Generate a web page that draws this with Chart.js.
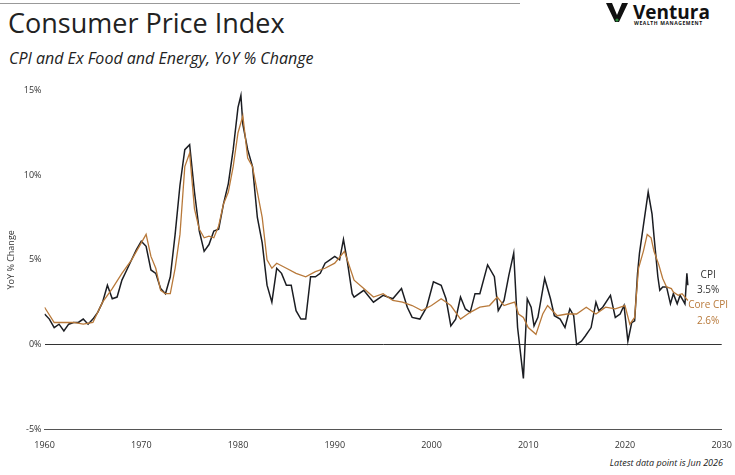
<!DOCTYPE html>
<html>
<head>
<meta charset="utf-8">
<script src="https://cdn.jsdelivr.net/npm/chart.js@4.4.1/dist/chart.umd.min.js"></script>
<style>
  html, body { margin: 0; padding: 0; background: #fff; }
  body { width: 735px; height: 475px; position: relative; overflow: hidden; font-family: "Open Sans", sans-serif; }
  #topline { position: absolute; left: 0; top: 3px; width: 520px; height: 1px; background: #999; }
  #title { position: absolute; left: 8px; top: 4px; font-size: 27px; color: #222; }
  #subtitle { position: absolute; left: 9px; top: 47px; font-size: 16px; font-style: italic; color: #222; }
  #logo { position: absolute; left: 606px; top: 3px; }
  #logo svg { position: absolute; left: 0; top: 0; }
  #logo .name { position: absolute; left: 27px; top: -4px; font-size: 19px; font-weight: bold; color: #111; }
  #logo .sub { position: absolute; left: 28px; top: 17px; font-size: 5px; font-weight: bold; letter-spacing: 0.6px; color: #111; white-space: nowrap; }
  #note { position: absolute; right: 12px; top: 456px; font-size: 9px; font-style: italic; color: #222; }
  #wrap { position: absolute; left: 0; top: 82px; width: 735px; height: 372px; }
</style>
</head>
<body>
<div id="topline"></div>
<div id="title">Consumer Price Index</div>
<div id="subtitle">CPI and Ex Food and Energy, YoY % Change</div>
<div id="logo">
  <svg width="22" height="20" viewBox="0 0 22 20"><path d="M0 0 L6 0 L11 12 L16 0 L22 0 L13 19 L9 19 Z" fill="#111"/><circle cx="11" cy="17" r="1.6" fill="#2a8a3a"/></svg>
  <div class="name">Ventura</div>
  <div class="sub">WEALTH MANAGEMENT</div>
</div>
<div id="wrap"><canvas id="chart"></canvas></div>
<div id="note">Latest data point is Jun 2026</div>
<script>
// CPI YoY % (year, value)
const cpiYears = [1960,1960.5,1961,1961.5,1962,1962.5,1963,1963.5,1964,1964.5,1965,1965.5,1966,1966.5,1967,1967.5,1968,1968.5,1969,1969.5,1970,1970.5,1971,1971.5,1972,1972.5,1973,1973.5,1974,1974.5,1975,1975.5,1976,1976.5,1977,1977.5,1978,1978.5,1979,1979.5,1980,1980.3,1980.5,1981,1981.5,1982,1982.5,1983,1983.5,1984,1984.5,1985,1985.5,1986,1986.5,1987,1987.5,1988,1988.5,1989,1989.5,1990,1990.5,1990.9,1991.3,1991.8,1992,1993,1994,1995,1996,1996.9,1997.5,1998,1998.8,1999.5,2000.2,2001,2001.5,2002,2002.5,2003,2003.5,2004,2004.5,2005,2005.8,2006.5,2006.9,2007.5,2008,2008.5,2008.9,2009.5,2009.9,2010.3,2010.6,2011,2011.7,2012.3,2012.7,2013.3,2013.8,2014.3,2014.7,2015,2015.5,2015.9,2016.5,2017,2017.3,2017.7,2018.5,2019,2019.5,2019.9,2020.3,2020.7,2021,2021.3,2021.5,2021.9,2022.4,2022.8,2023,2023.4,2023.6,2023.9,2024.3,2024.7,2025,2025.4,2025.7,2026,2026.2,2026.4,2026.5];
const cpiValues = [1.8,1.5,1.0,1.2,0.8,1.2,1.3,1.3,1.5,1.2,1.5,1.9,2.5,3.5,2.7,2.8,3.8,4.4,5.0,5.6,6.1,5.8,4.4,4.2,3.3,3.0,4.0,6.5,9.4,11.5,11.8,9.0,6.7,5.5,5.9,6.7,6.8,8.3,9.5,11.5,14.0,14.7,13.0,11.5,10.5,7.5,6.0,3.5,2.5,4.5,4.2,3.5,3.5,2.0,1.5,1.5,4.0,4.0,4.2,4.8,5.0,5.2,5.0,6.2,4.9,3.0,2.8,3.2,2.5,2.9,2.7,3.3,2.2,1.6,1.5,2.2,3.7,3.5,2.7,1.1,1.5,2.8,2.1,1.9,3.0,3.0,4.7,4.0,2.0,2.6,4.1,5.4,1.0,-2.0,2.7,2.2,1.1,1.6,3.9,2.7,1.7,1.5,1.0,2.1,1.7,0.0,0.2,0.5,1.0,2.5,2.0,2.2,2.9,1.6,1.8,2.3,0.2,1.3,1.4,4.2,5.4,7.0,9.0,7.7,6.4,4.0,3.2,3.4,3.4,2.4,3.0,2.4,2.9,2.6,2.4,4.2,3.5];
// Core CPI (ex food and energy) YoY %
const coreYears = [1960,1961,1962,1963,1964,1965,1966,1967,1968,1969,1970,1970.5,1971,1971.5,1972,1972.5,1973,1973.5,1974,1974.5,1975,1975.5,1976,1976.5,1977,1977.5,1978,1978.5,1979,1979.5,1980,1980.5,1981,1981.5,1982,1982.5,1983,1983.5,1984,1985,1986,1987,1988,1989,1990,1991,1992,1993,1994,1995,1996,1997,1998,1999,2000,2001,2002,2003,2004,2005,2006,2006.8,2007.5,2008,2008.6,2009,2009.5,2010,2010.8,2011.5,2012,2013,2014,2015,2016,2017,2018,2019,2020,2020.5,2021,2021.4,2021.9,2022.3,2022.7,2023,2023.5,2023.9,2024.3,2024.8,2025,2025.5,2025.9,2026.5];
const coreValues = [2.2,1.3,1.3,1.3,1.2,1.3,2.5,3.3,4.2,5.0,6.0,6.5,5.2,4.5,3.2,3.0,3.0,4.5,6.5,10.5,11.3,8.0,6.8,6.3,6.4,6.3,7.0,8.3,9.0,10.5,12.5,13.5,11.0,10.5,9.0,7.5,5.0,4.5,4.8,4.5,4.2,4.0,4.3,4.5,4.8,5.5,3.8,3.3,2.8,3.0,2.6,2.5,2.3,2.0,2.3,2.7,2.3,1.5,1.9,2.2,2.3,2.8,2.3,2.4,2.5,1.8,1.6,1.0,0.6,1.8,2.3,1.7,1.8,1.8,2.2,1.8,2.2,2.1,2.3,1.2,1.6,4.5,5.5,6.5,6.3,5.5,4.7,3.9,3.4,3.3,3.1,2.9,3.0,2.6];
const yTicks = [-5, 0, 5, 10, 15];
const xTicks = [1960, 1970, 1980, 1990, 2000, 2010, 2020, 2030];

const cpiColor = '#1b1d22';
const coreColor = '#b8793a';

const endLabels = {
    id: 'endLabels',
    afterDatasetsDraw(chart) {
        const ctx = chart.ctx;
        const x = chart.scales.x.getPixelForValue(2028.6);
        const y = chart.scales.y;
        ctx.save();
        ctx.font = '10px "Open Sans", sans-serif';
        ctx.textAlign = 'center';
        ctx.textBaseline = 'middle';
        ctx.fillStyle = '#333';
        ctx.fillText('CPI', x, y.getPixelForValue(4.1));
        ctx.fillText(cpiValues[cpiValues.length - 1].toFixed(1) + '%', x, y.getPixelForValue(3.2));
        ctx.fillStyle = coreColor;
        ctx.fillText('Core CPI', x, y.getPixelForValue(2.3));
        ctx.fillText(coreValues[coreValues.length - 1].toFixed(1) + '%', x, y.getPixelForValue(1.4));
        ctx.restore();
    }
};

const ctx = document.getElementById('chart').getContext('2d');
new Chart(ctx, {
    type: 'line',
    data: {
        datasets: [
            {
                label: 'Core CPI',
                data: coreYears.map((yr, i) => ({ x: yr, y: coreValues[i] })),
                borderColor: coreColor,
                borderWidth: 1.3,
                pointRadius: 0,
                tension: 0
            },
            {
                label: 'CPI',
                data: cpiYears.map((yr, i) => ({ x: yr, y: cpiValues[i] })),
                borderColor: cpiColor,
                borderWidth: 1.5,
                pointRadius: 0,
                tension: 0
            }
        ]
    },
    options: {
        responsive: true,
        maintainAspectRatio: false,
        animation: false,
        layout: { padding: { top: 4, right: 12, left: 2 } },
        plugins: { legend: { display: false }, tooltip: { enabled: false } },
        scales: {
            x: {
                type: 'linear',
                min: 1960,
                max: 2030,
                afterBuildTicks: axis => { axis.ticks = xTicks.map(v => ({ value: v })); },
                ticks: { color: '#333', font: { family: 'Open Sans', size: 9 }, maxRotation: 0, callback: v => v },
                grid: { display: false },
                border: { color: '#555' }
            },
            y: {
                min: -5,
                max: 15,
                afterBuildTicks: axis => { axis.ticks = yTicks.map(v => ({ value: v })); },
                ticks: { color: '#333', font: { family: 'Open Sans', size: 9 }, callback: v => v + '%' },
                title: { display: true, text: 'YoY % Change', color: '#333', font: { family: 'Open Sans', size: 9 } },
                grid: {
                    drawTicks: false,
                    color: c => c.tick.value === 0 ? '#333' : 'rgba(0,0,0,0)',
                    lineWidth: 1
                },
                border: { display: false }
            }
        }
    },
    plugins: [endLabels]
});
</script>
</body>
</html>
